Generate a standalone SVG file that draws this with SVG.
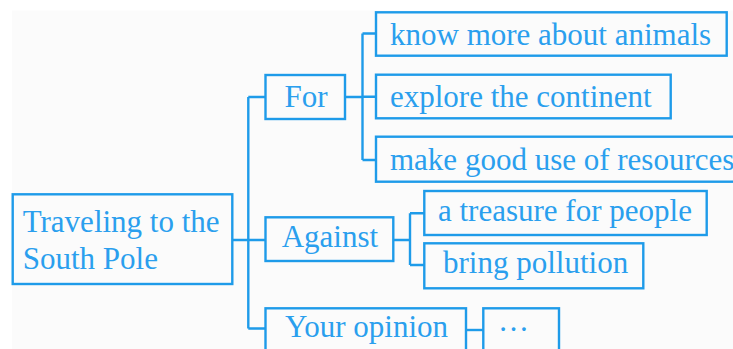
<svg xmlns="http://www.w3.org/2000/svg" width="733" height="349" viewBox="0 0 733 349">
<style>
.box{fill:none;stroke:#1e9be9;stroke-width:2.4}
.ln{fill:none;stroke:#1e9be9;stroke-width:2.4}
.t{font-family:'Liberation Serif', 'Times New Roman', Times, serif;font-size:31px;fill:#2a9fee}
</style>
<rect x="0" y="0" width="733" height="349" fill="#ffffff"/>
<rect x="12" y="10.5" width="721" height="338.5" fill="#fbfbfb"/>
<g id="connectors">
<path class="ln" d="M232.5 240H265M248.3 97V328.5M248.3 97H265M248.3 328.5H265"/>
<path class="ln" d="M345 97H362.5M362.5 33.5V160M362.5 33.5H376M362.5 96.7H376M362.5 160H376"/>
<path class="ln" d="M393.3 240H410M410 213.3V265M410 213.3H424.3M410 265H424.3"/>
<path class="ln" d="M466 330H483.3"/>
</g>
<g id="root"><rect class="box" x="12.7" y="194.3" width="219.6" height="89.7"/><text class="t" x="22.7" y="231.7">Traveling to the</text><text class="t" x="22.7" y="269">South Pole</text></g>
<g id="for"><rect class="box" x="265.5" y="75" width="79.5" height="44"/><text class="t" x="284.5" y="106.7">For</text></g>
<g id="against"><rect class="box" x="265.5" y="217.3" width="127.8" height="43.7"/><text class="t" x="281.7" y="246.7">Against</text></g>
<g id="opinion"><rect class="box" x="265.5" y="308.3" width="200.5" height="50"/><text class="t" x="285" y="336.7">Your opinion</text></g>
<g id="animals"><rect class="box" x="376" y="12.3" width="350.7" height="43.4"/><text class="t" x="390" y="45">know more about animals</text></g>
<g id="continent"><rect class="box" x="376" y="74.7" width="294.7" height="43.6"/><text class="t" x="390" y="107.3">explore the continent</text></g>
<g id="resources"><rect class="box" x="376" y="136.7" width="380" height="45"/><text class="t" x="390" y="170">make good use of resources</text></g>
<g id="treasure"><rect class="box" x="424.3" y="191" width="282.4" height="44"/><text class="t" x="438" y="220.7">a treasure for people</text></g>
<g id="pollution"><rect class="box" x="424.3" y="243.3" width="219" height="45"/><text class="t" x="443" y="272.7">bring pollution</text></g>
<g id="dots"><rect class="box" x="483.3" y="308.3" width="75.7" height="50"/><text class="t" x="498" y="331">…</text></g>
</svg>
